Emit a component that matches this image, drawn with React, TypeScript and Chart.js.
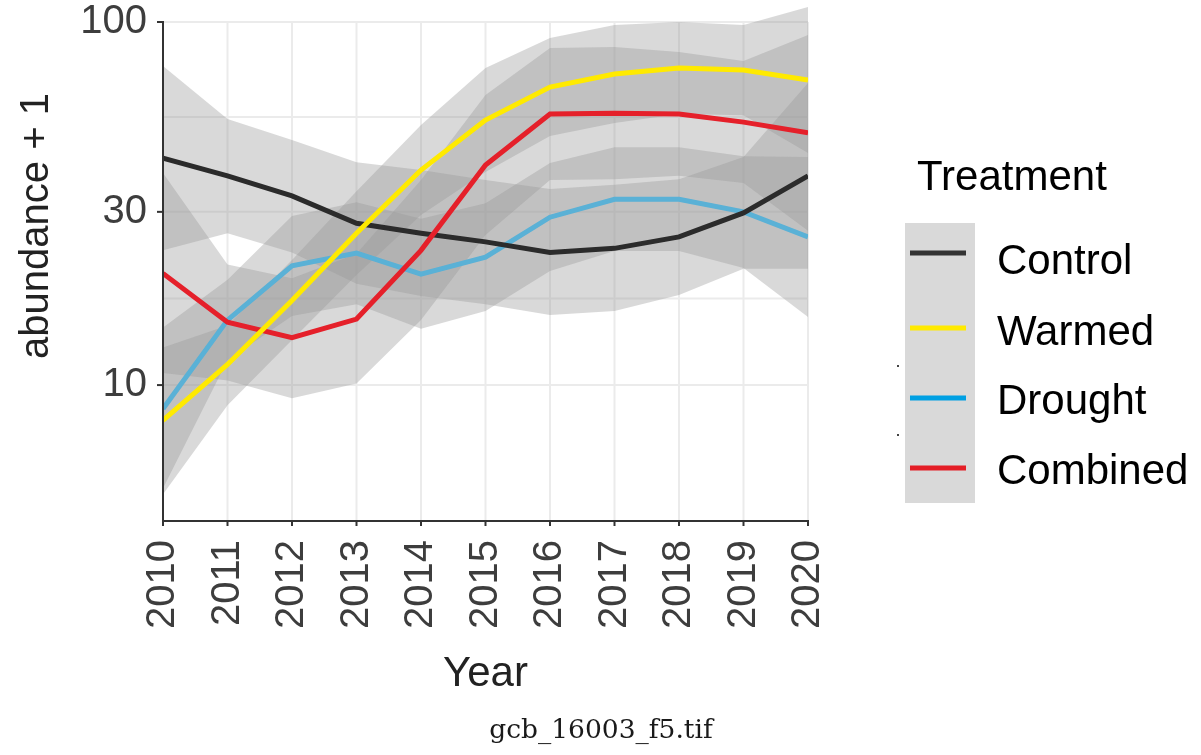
import React, { useEffect, useRef } from 'react';
import { Chart, registerables } from 'chart.js';

Chart.register(...registerables);

// ---------------- data ----------------
const YEARS = [2010, 2011, 2012, 2013, 2014, 2015, 2016, 2017, 2018, 2019, 2020];

const CONTROL = [42.2, 37.7, 33.2, 27.9, 26.2, 24.8, 23.2, 23.8, 25.6, 29.8, 37.7];
const CONTROL_HI = [75.6, 54.1, 47.3, 41.1, 39.1, 36.7, 34.7, 35.6, 36.9, 42.5, 67.9];
const CONTROL_LO = [23.5, 26.2, 23.2, 19.0, 17.6, 16.7, 15.6, 16.0, 17.7, 20.9, 20.9];

const WARMED = [8.0, 11.4, 17.1, 26.2, 39.1, 53.7, 66.2, 71.9, 74.7, 73.8, 69.2];
const WARMED_HI = [12.7, 14.6, 22.1, 34.2, 52.0, 74.7, 90.3, 98.1, 100, 98.1, 110];
const WARMED_LO = [5.0, 8.8, 13.3, 20.1, 29.4, 38.6, 48.5, 52.7, 55.8, 55.4, 43.6];

const DROUGHT = [8.6, 15.1, 21.3, 23.1, 20.2, 22.5, 29.0, 32.5, 32.5, 30.0, 25.6];
const DROUGHT_HI = [14.4, 19.5, 29.2, 31.9, 28.7, 31.7, 40.9, 45.2, 45.2, 42.7, 42.5];
const DROUGHT_LO = [5.2, 11.7, 15.5, 16.7, 14.3, 16.0, 20.6, 23.4, 23.4, 21.0, 15.4];

const COMBINED = [20.3, 14.9, 13.5, 15.2, 23.5, 40.4, 55.8, 56.1, 55.8, 53.0, 49.5];
const COMBINED_HI = [38.4, 21.5, 19.7, 23.0, 36.7, 62.9, 84.8, 85.3, 82.7, 78.1, 92.1];
const COMBINED_LO = [10.8, 10.3, 9.2, 10.1, 15.1, 25.9, 36.7, 36.9, 37.7, 36.0, 26.6];

const SERIES_NAMES = ['Control', 'Warmed', 'Drought', 'Combined'];
const Y_TICKS = [10, 30, 100];
const Y_MIN = 4.25;
const Y_PANEL_MAX = 100;
const Y_MAX = 112.1;

const TITLE_X = 'Year';
const TITLE_Y = 'abundance + 1';
const LEGEND_TITLE = 'Treatment';
const CAPTION = 'gcb_16003_f5.tif';

// ---------------- styles ----------------
const LINE_COLORS = ['#2b2b2b', '#ffea00', '#5ab1d6', '#e5202a'];
const LEGEND_COLORS = ['#333333', '#ffea00', '#00a0e3', '#e41e26'];
const RIBBON_FILL = 'rgba(153,153,153,0.37)';
const GRID_COLOR = '#ebebeb';
const AXIS_COLOR = '#333333';
const SANS = '"Liberation Sans", Arial, sans-serif';

const pts = (vals: number[]) => YEARS.map((x, i) => ({ x, y: vals[i] }));

const decor = {
  id: 'decor',
  beforeDatasetsDraw(chart: any) {
    const { ctx, chartArea, scales } = chart;
    const xs = scales.x;
    const ys = scales.y;
    const top = ys.getPixelForValue(Y_PANEL_MAX);
    ctx.save();
    ctx.strokeStyle = GRID_COLOR;
    ctx.lineWidth = 2;
    for (const yr of YEARS) {
      const px = xs.getPixelForValue(yr);
      ctx.beginPath();
      ctx.moveTo(px, top);
      ctx.lineTo(px, chartArea.bottom);
      ctx.stroke();
    }
    // major + minor (geometric midpoints between labelled breaks)
    const gridVals: number[] = [...Y_TICKS];
    for (let i = 0; i < Y_TICKS.length - 1; i++) gridVals.push(Math.sqrt(Y_TICKS[i] * Y_TICKS[i + 1]));
    for (const v of gridVals) {
      const py = ys.getPixelForValue(v);
      ctx.beginPath();
      ctx.moveTo(chartArea.left, py);
      ctx.lineTo(chartArea.right, py);
      ctx.stroke();
    }
    ctx.restore();
  },
  afterDatasetsDraw(chart: any) {
    const { ctx, chartArea, scales } = chart;
    const xs = scales.x;
    const ys = scales.y;
    const top = ys.getPixelForValue(Y_PANEL_MAX);
    ctx.save();
    ctx.strokeStyle = AXIS_COLOR;
    ctx.lineWidth = 2;
    ctx.beginPath();
    ctx.moveTo(chartArea.left, top - 1);
    ctx.lineTo(chartArea.left, chartArea.bottom + 1);
    ctx.lineTo(chartArea.right, chartArea.bottom + 1);
    ctx.stroke();
    for (const v of Y_TICKS) {
      const py = ys.getPixelForValue(v);
      ctx.beginPath();
      ctx.moveTo(chartArea.left - 6, py);
      ctx.lineTo(chartArea.left, py);
      ctx.stroke();
    }
    for (const yr of YEARS) {
      const px = xs.getPixelForValue(yr);
      ctx.beginPath();
      ctx.moveTo(px, chartArea.bottom);
      ctx.lineTo(px, chartArea.bottom + 6);
      ctx.stroke();
    }
    ctx.restore();
  },
  afterDraw(chart: any) {
    const { ctx, chartArea } = chart;
    ctx.save();
    // axis titles
    ctx.fillStyle = '#222222';
    ctx.textAlign = 'center';
    ctx.textBaseline = 'alphabetic';
    ctx.font = `42px ${SANS}`;
    ctx.fillText(TITLE_X, (chartArea.left + chartArea.right) / 2, 686);
    ctx.font = `40px ${SANS}`;
    ctx.save();
    ctx.translate(48, 226);
    ctx.rotate(-Math.PI / 2);
    ctx.fillText(TITLE_Y, 0, 0);
    ctx.restore();

    // legend
    ctx.fillStyle = '#000000';
    ctx.textAlign = 'left';
    ctx.font = `42px ${SANS}`;
    ctx.fillText(LEGEND_TITLE, 917, 190);
    ctx.fillStyle = '#d9d9d9';
    ctx.fillRect(905, 223, 70, 280);
    const keyY = [253, 328, 398, 468];
    const labY = [274, 345, 414, 484];
    ctx.lineWidth = 5;
    SERIES_NAMES.forEach((name, i) => {
      ctx.strokeStyle = LEGEND_COLORS[i];
      ctx.beginPath();
      ctx.moveTo(910, keyY[i]);
      ctx.lineTo(966, keyY[i]);
      ctx.stroke();
      ctx.fillStyle = '#000000';
      ctx.fillText(name, 997, labY[i]);
    });
    // stray specks
    ctx.fillStyle = '#444444';
    ctx.fillRect(897, 365, 2, 2);
    ctx.fillRect(897, 434, 2, 2);

    // caption
    ctx.fillStyle = '#1a1a1a';
    ctx.textAlign = 'center';
    ctx.font = '26.5px "DejaVu Serif", serif';
    ctx.fillText(CAPTION, 601, 738);
    ctx.restore();
  },
};

export default function App() {
  const ref = useRef<HTMLCanvasElement | null>(null);

  useEffect(() => {
    document.body.style.margin = '0';
    const canvas = ref.current;
    if (!canvas) return;

    const ribbon = (hi: number[], lo: number[]) => [
      {
        type: 'line',
        data: pts(hi),
        fill: '+1',
        backgroundColor: RIBBON_FILL,
        borderColor: 'rgba(0,0,0,0)',
        borderWidth: 0,
        pointRadius: 0,
        tension: 0,
        order: 10,
      },
      {
        type: 'line',
        data: pts(lo),
        fill: false,
        backgroundColor: 'rgba(0,0,0,0)',
        borderColor: 'rgba(0,0,0,0)',
        borderWidth: 0,
        pointRadius: 0,
        tension: 0,
        order: 10,
      },
    ];

    const line = (label: string, vals: number[], color: string, order: number) => ({
      type: 'line',
      label,
      data: pts(vals),
      borderColor: color,
      backgroundColor: color,
      borderWidth: 5,
      pointRadius: 0,
      tension: 0,
      fill: false,
      order,
    });

    const datasets: any[] = [
      ...ribbon(CONTROL_HI, CONTROL_LO),
      ...ribbon(WARMED_HI, WARMED_LO),
      ...ribbon(DROUGHT_HI, DROUGHT_LO),
      ...ribbon(COMBINED_HI, COMBINED_LO),
      line(SERIES_NAMES[2], DROUGHT, LINE_COLORS[2], 4),
      line(SERIES_NAMES[0], CONTROL, LINE_COLORS[0], 3),
      line(SERIES_NAMES[3], COMBINED, LINE_COLORS[3], 2),
      line(SERIES_NAMES[1], WARMED, LINE_COLORS[1], 1),
    ];

    const chart = new Chart(canvas, {
      type: 'line',
      data: { datasets },
      options: {
        responsive: false,
        animation: false,
        events: [],
        layout: { padding: { left: 0, right: 393, top: 4, bottom: 0 } },
        plugins: {
          legend: { display: false },
          tooltip: { enabled: false },
          title: { display: false },
        },
        scales: {
          x: {
            type: 'linear',
            min: YEARS[0],
            max: YEARS[YEARS.length - 1],
            offset: false,
            grid: { display: false },
            border: { display: false },
            afterBuildTicks: (s: any) => {
              s.ticks = YEARS.map((v) => ({ value: v }));
            },
            afterFit: (s: any) => {
              s.height = 235;
              s.paddingLeft = 0;
              s.paddingRight = 0;
              s.paddingTop = 0;
              s.paddingBottom = 0;
            },
            ticks: {
              autoSkip: false,
              minRotation: 90,
              maxRotation: 90,
              padding: 12,
              color: '#3d3d3d',
              font: { family: SANS, size: 40 },
              callback: (v: any) => String(v),
            },
          },
          y: {
            type: 'logarithmic',
            min: Y_MIN,
            max: Y_MAX,
            grid: { display: false },
            border: { display: false },
            afterBuildTicks: (s: any) => {
              s.ticks = Y_TICKS.map((v) => ({ value: v }));
            },
            afterFit: (s: any) => {
              s.width = 163;
              s.paddingTop = 0;
              s.paddingBottom = 0;
              s.paddingLeft = 0;
              s.paddingRight = 0;
            },
            ticks: {
              padding: 8,
              color: '#3d3d3d',
              font: { family: SANS, size: 40 },
              callback: (v: any) => String(v),
            },
          },
        },
      } as any,
      plugins: [decor],
    } as any);

    return () => chart.destroy();
  }, []);

  return (
    <div style={{ width: 1201, height: 755, overflow: 'hidden', background: '#ffffff' }}>
      <canvas ref={ref} width={1201} height={755} style={{ display: 'block' }} />
    </div>
  );
}
